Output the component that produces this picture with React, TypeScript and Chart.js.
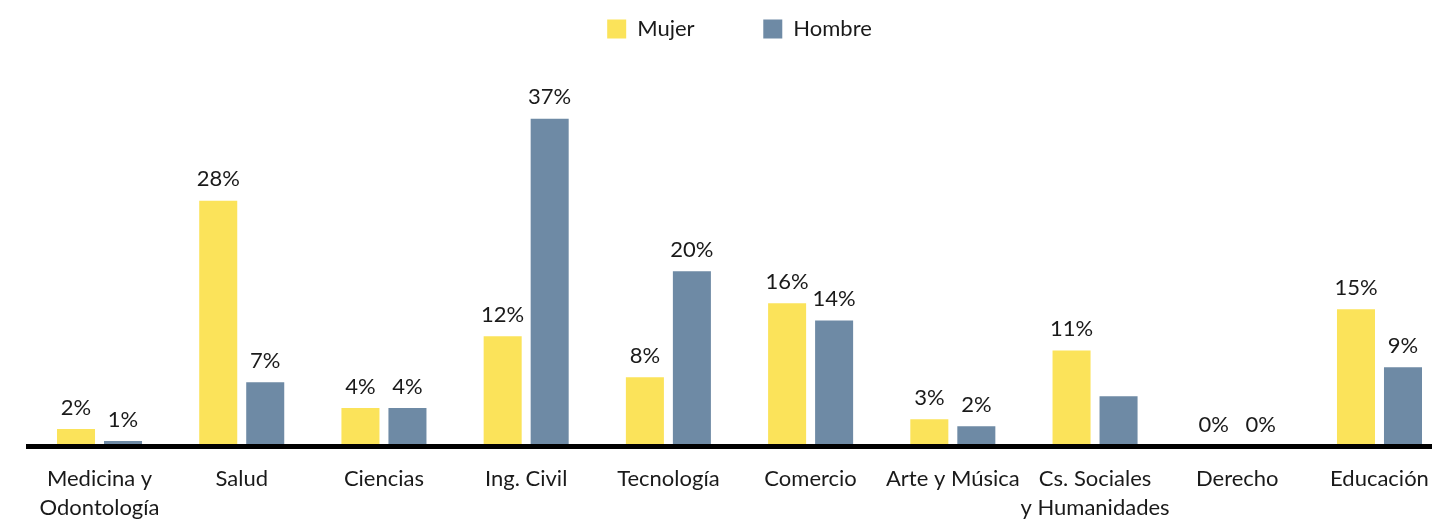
import React, { useEffect, useRef } from "react";
import { Chart, registerables } from "chart.js";

Chart.register(...registerables);

const categories: (string | string[])[] = [
  ["Medicina y", "Odontología"],
  "Salud",
  "Ciencias",
  "Ing. Civil",
  "Tecnología",
  "Comercio",
  "Arte y Música",
  ["Cs. Sociales", "y Humanidades"],
  "Derecho",
  "Educación",
];
const mujerValues = [1.98, 27.9, 4.36, 12.5, 7.87, 16.25, 3.1, 10.9, 0, 15.57];
const hombreValues = [0.62, 7.3, 4.36, 37.2, 19.9, 14.3, 2.3, 5.7, 0, 9.0];
const mujerLabels = ["2%", "28%", "4%", "12%", "8%", "16%", "3%", "11%", "0%", "15%"];
const hombreLabels = ["1%", "7%", "4%", "37%", "20%", "14%", "2%", "", "0%", "9%"];
const seriesNames = ["Mujer", "Hombre"];

const FONT = "Lato";
const FONT_SIZE = 22;
const YELLOW = "#FBE35A";
const SLATE = "#6E8AA5";

const valueLabelPlugin = {
  id: "valueLabels",
  afterDatasetsDraw(chart: any) {
    const ctx = chart.ctx;
    const sets = [mujerLabels, hombreLabels];
    ctx.save();
    ctx.font = `${FONT_SIZE}px ${FONT}`;
    ctx.fillStyle = "#1a1a1a";
    ctx.textAlign = "center";
    ctx.textBaseline = "middle";
    chart.data.datasets.forEach((_: any, di: number) => {
      const meta = chart.getDatasetMeta(di);
      meta.data.forEach((bar: any, i: number) => {
        const t = sets[di][i];
        if (!t) return;
        ctx.fillText(t, bar.x, bar.y - 21.5);
      });
    });
    ctx.restore();
  },
};

export default function App() {
  const ref = useRef<HTMLCanvasElement>(null);
  useEffect(() => {
    if (!ref.current) return;
    const chart = new Chart(ref.current, {
      type: "bar",
      data: {
        labels: categories,
        datasets: [
          {
            label: seriesNames[0],
            data: mujerValues,
            backgroundColor: YELLOW,
            borderWidth: 0,
            categoryPercentage: 0.661,
            barPercentage: 0.809,
          },
          {
            label: seriesNames[1],
            data: hombreValues,
            backgroundColor: SLATE,
            borderWidth: 0,
            categoryPercentage: 0.661,
            barPercentage: 0.809,
          },
        ],
      },
      options: {
        responsive: false,
        animation: false,
        devicePixelRatio: 1,
        layout: { padding: { left: 28.4, right: 27.4, top: 0, bottom: 0 } },
        plugins: {
          tooltip: { enabled: false },
          legend: {
            position: "top",
            labels: {
              boxWidth: 19,
              boxHeight: 19,
              padding: 18,
              color: "#1a1a1a",
              font: { family: FONT, size: FONT_SIZE },
              generateLabels(c: any) {
                const items = Chart.defaults.plugins.legend.labels.generateLabels(c);
                items.forEach((it: any, i: number) => {
                  it.lineWidth = 0;
                  if (i === 0) it.text = it.text + "         ";
                });
                return items;
              },
            },
          },
        },
        scales: {
          x: {
            grid: { display: false, drawTicks: false },
            border: { display: true, color: "#000", width: 5, z: 1 },
            ticks: {
              color: "#1a1a1a",
              padding: 18,
              font: { family: FONT, size: FONT_SIZE, lineHeight: 29 / 22 },
              maxRotation: 0,
              autoSkip: false,
            },
            afterFit(scale: any) {
              scale.height = 74.5;
            },
          },
          y: {
            display: false,
            min: 0,
            max: 45,
          },
        },
      },
      plugins: [valueLabelPlugin],
    });
    return () => chart.destroy();
  }, []);
  return (
    <div
      style={{
        position: "absolute",
        left: 0,
        top: 0,
        width: "100vw",
        height: 521,
        overflow: "hidden",
        background: "#fff",
      }}
    >
      <canvas ref={ref} width={1478} height={521} style={{ display: "block", width: 1478, height: 521 }} />
    </div>
  );
}
